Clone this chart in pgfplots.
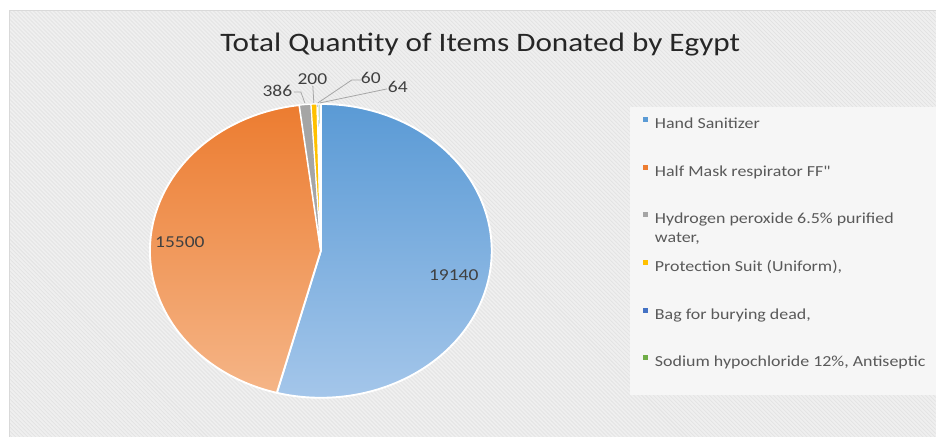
\documentclass[border=0pt]{standalone}
\usepackage{fontspec}
\setmainfont{Carlito}[FakeStretch=1.17]
\newfontfamily\plainfont{Carlito}[FakeStretch=1.17]
\usepackage{pgfplots}
\pgfplotsset{compat=1.18}
\usetikzlibrary{patterns}

\definecolor{blueT}{HTML}{5A9AD5}
\definecolor{blueB}{HTML}{A4C6EA}
\definecolor{blueM}{HTML}{5B9BD5}
\definecolor{oranT}{HTML}{EC7C30}
\definecolor{oranB}{HTML}{F5B587}
\definecolor{oranM}{HTML}{ED7D31}
\definecolor{grayM}{HTML}{A5A5A5}
\definecolor{yelM}{HTML}{FFC000}
\definecolor{dblM}{HTML}{4472C4}
\definecolor{grnM}{HTML}{70AD47}
\definecolor{bgfill}{HTML}{EFEFEF}
\definecolor{bgline}{HTML}{E0E0E0}
\definecolor{legbg}{HTML}{F6F6F6}
\definecolor{bord}{HTML}{D9D9D9}
\definecolor{labtext}{HTML}{404040}
\definecolor{legtext}{HTML}{595959}
\definecolor{leader}{HTML}{A6A6A6}

% data
\def\vHS{19140}
\def\vHM{15500}
\def\vHP{386}
\def\vPS{200}
\def\vBG{60}
\def\vSH{64}
\edef\tot{\fpeval{\vHS+\vHM+\vHP+\vPS+\vBG+\vSH}}
\edef\aA{90}
\edef\aB{\fpeval{round(\aA-360*\vHS/\tot,4)}}
\edef\aC{\fpeval{round(\aB-360*\vHM/\tot,4)}}
\edef\aD{\fpeval{round(\aC-360*\vHP/\tot,4)}}
\edef\aE{\fpeval{round(\aD-360*\vPS/\tot,4)}}
\edef\aF{\fpeval{round(\aE-360*\vBG/\tot,4)}}
\edef\aG{\fpeval{round(\aF-360*\vSH/\tot,4)}}
\def\cx{321}
\def\cy{251}
\def\rx{171}
\def\ry{147}

\begin{document}
\begin{tikzpicture}
\begin{axis}[
  width=702pt, height=327.75pt, scale only axis,
  hide axis, clip=false,
  xmin=0, xmax=936, ymin=0, ymax=437, y dir=reverse,
  legend image code/.code={\fill[#1, draw=none] (0pt,1.2pt) rectangle (3.8pt,5.0pt);},
  legend style={at={(0.687,0.733)}, anchor=north west, draw=none, fill=none,
    inner sep=0pt, nodes={inner sep=0pt}, row sep=25.4pt, column sep=5.2pt,
    font=\fontsize{11.5}{12.6}\selectfont, text=legtext},
  legend cell align=left,
]
% backgrounds
\fill[white] (axis cs:0,0) rectangle (axis cs:936,437);
\fill[bgfill] (axis cs:10,11) rectangle (axis cs:936,437);
\fill[pattern=north west lines, pattern color=bgline] (axis cs:10,11) rectangle (axis cs:936,437);
\draw[bord, line width=0.75pt] (axis cs:936,11) -- (axis cs:10,11) -- (axis cs:10,437);
\fill[legbg] (axis cs:630,107) rectangle (axis cs:936,395);

% slices
\addplot[forget plot, draw=white, line width=1.4pt, line join=round, top color=blueT, bottom color=blueB,
  domain=\aB:\aA, samples=120, variable=\t]
  ({\cx+\rx*cos(\t)}, {\cy-\ry*sin(\t)}) -- (axis cs:\cx,\cy) -- cycle;
\addplot[forget plot, draw=white, line width=1.4pt, line join=round, top color=oranT, bottom color=oranB,
  domain=\aC:\aB, samples=120, variable=\t]
  ({\cx+\rx*cos(\t)}, {\cy-\ry*sin(\t)}) -- (axis cs:\cx,\cy) -- cycle;
\addplot[forget plot, draw=white, line width=0.9pt, line join=round, fill=grayM,
  domain=\aD:\aC, samples=6, variable=\t]
  ({\cx+\rx*cos(\t)}, {\cy-\ry*sin(\t)}) -- (axis cs:\cx,\cy) -- cycle;
\addplot[forget plot, draw=white, line width=0.9pt, line join=round, fill=yelM,
  domain=\aE:\aD, samples=6, variable=\t]
  ({\cx+\rx*cos(\t)}, {\cy-\ry*sin(\t)}) -- (axis cs:\cx,\cy) -- cycle;
\addplot[forget plot, draw=white, line width=0.9pt, line join=round, fill=dblM,
  domain=\aF:\aE, samples=4, variable=\t]
  ({\cx+\rx*cos(\t)}, {\cy-\ry*sin(\t)}) -- (axis cs:\cx,\cy) -- cycle;
\addplot[forget plot, draw=white, line width=0.9pt, line join=round, fill=grnM,
  domain=\aG:\aF, samples=4, variable=\t]
  ({\cx+\rx*cos(\t)}, {\cy-\ry*sin(\t)}) -- (axis cs:\cx,\cy) -- cycle;

% leader lines
\draw[leader, line width=0.6pt] (axis cs:294,92) -- (axis cs:301,92) -- (axis cs:305,103);
\draw[leader, line width=0.6pt] (axis cs:313,86) -- (axis cs:314,103);
\draw[leader, line width=0.6pt] (axis cs:361,80) -- (axis cs:352,80) -- (axis cs:318,103);
\draw[leader, line width=0.6pt] (axis cs:387,89) -- (axis cs:320,103);

% data labels
\begin{scope}[every node/.style={font=\fontsize{12.5}{14}\selectfont, text=labtext, inner sep=0pt}]
\node at (axis cs:454,275) {\vHS};
\node at (axis cs:180,242.5) {\vHM};
\node at (axis cs:277.5,91) {\vHP};
\node at (axis cs:312.5,79.5) {\vPS};
\node at (axis cs:371,77.5) {\vBG};
\node at (axis cs:398,86.5) {\vSH};
\end{scope}

% title
\node[font=\fontsize{20}{24}\selectfont, text=black!85, anchor=base, inner sep=0pt] at (axis cs:480.5,52) {Total Quantity of Items Donated by Egypt};

% legend
\addlegendimage{fill=blueM}
\addlegendentry{\strut Hand Sanitizer}
\addlegendimage{fill=oranM}
\addlegendentry{\strut Half Mask respirator FF{\plainfont"}}
\addlegendimage{fill=grayM}
\addlegendentry{\strut\smash{\begin{tabular}[t]{@{}l@{}}Hydrogen peroxide 6.5\% purified\\[1.2pt]water,\end{tabular}}}
\addlegendimage{fill=yelM}
\addlegendentry{\strut Protection Suit (Uniform),}
\addlegendimage{fill=dblM}
\addlegendentry{\strut Bag for burying dead,}
\addlegendimage{fill=grnM}
\addlegendentry{\strut Sodium hypochloride 12\%, Antiseptic}
\end{axis}
\end{tikzpicture}
\end{document}
